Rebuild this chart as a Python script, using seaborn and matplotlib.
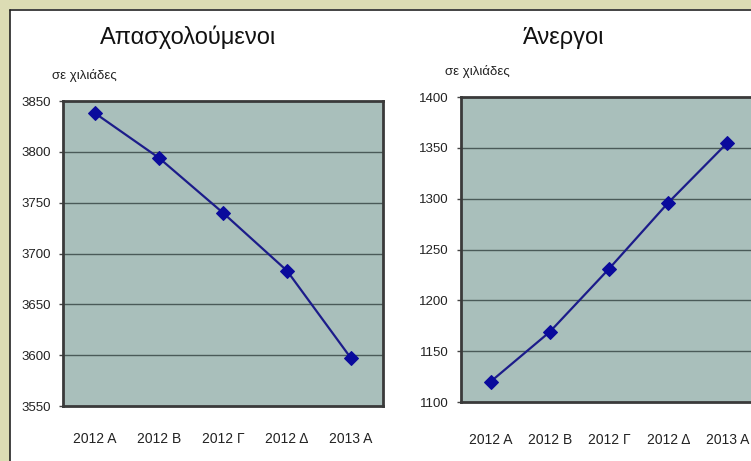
import matplotlib
matplotlib.use("Agg")
import matplotlib.pyplot as plt
from matplotlib.patches import Rectangle
from matplotlib.lines import Line2D
import seaborn as sns
import pandas as pd
import numpy as np

quarters = ["2012 Α", "2012 Β", "2012 Γ", "2012 Δ", "2013 Α"]
employed = [3838, 3794, 3740, 3683, 3597]
unemployed = [1120, 1169, 1231, 1296, 1355]
employed_ticks = [3550, 3600, 3650, 3700, 3750, 3800, 3850]
unemployed_ticks = [1100, 1150, 1200, 1250, 1300, 1350, 1400]
title_left = "Απασχολούμενοι"
title_right = "Άνεργοι"
unit_label = "σε χιλιάδες"

sns.set_theme(style="white")
plt.rcParams['font.family'] = ['Liberation Sans', 'DejaVu Sans']

fig = plt.figure(figsize=(7.51, 4.61), dpi=100)
fig.patch.set_facecolor("white")

# khaki frame strips (top and left)
khaki = "#dcdcb4"
fig.add_artist(Rectangle((0, 1 - 9 / 461), 1, 9 / 461, transform=fig.transFigure,
                         facecolor=khaki, edgecolor="none", zorder=0))
fig.add_artist(Rectangle((0, 0), 10 / 751, 1, transform=fig.transFigure,
                         facecolor=khaki, edgecolor="none", zorder=0))
fig.add_artist(Line2D([10 / 751, 1], [1 - 10 / 461, 1 - 10 / 461], transform=fig.transFigure,
                      color="#222222", lw=1.2))
fig.add_artist(Line2D([10 / 751, 10 / 751], [0, 1 - 10 / 461], transform=fig.transFigure,
                      color="#222222", lw=1.2))

ax1 = fig.add_axes([63 / 751, 1 - 406 / 461, 320 / 751, 305 / 461])
ax2 = fig.add_axes([461 / 751, 1 - 402 / 461, 296 / 751, 305 / 461])

fill = "#a9bfbb"
line_c = "#1c1c8a"
mark_c = "#0a0a9c"

def draw(ax, values, ticks, xpad):
    df = pd.DataFrame({"q": quarters, "v": values})
    ax.set_facecolor(fill)
    sns.lineplot(data=df, x="q", y="v", ax=ax, color=line_c, lw=1.6,
                 marker="D", markersize=7.5, markerfacecolor=mark_c,
                 markeredgecolor=mark_c, sort=False, zorder=3)
    ax.set_xlim(-0.5, len(quarters) - 0.5)
    ax.set_ylim(ticks[0], ticks[-1])
    ax.set_yticks(ticks)
    ax.set_yticklabels([str(t) for t in ticks], fontsize=9.5, color="#222222")
    ax.set_xticks(range(len(quarters)))
    ax.set_xticklabels(quarters, fontsize=10, color="#222222")
    ax.set_xticks(np.arange(-0.5, len(quarters)), minor=True)
    ax.tick_params(axis="x", which="major", length=0, pad=xpad)
    ax.tick_params(axis="x", which="minor", length=4, width=1, color="#555555", direction="out")
    ax.tick_params(axis="y", which="major", length=3, width=1, color="#444444", pad=6, left=True)
    for y in ticks[1:-1]:
        ax.axhline(y, color="#4a5a58", lw=1.0, zorder=1)
    for s in ax.spines.values():
        s.set_color("#3a3a3a")
        s.set_linewidth(2)
    ax.set_xlabel("")
    ax.set_ylabel("")

draw(ax1, employed, employed_ticks, 19)
draw(ax2, unemployed, unemployed_ticks, 22)

fig.text(188 / 751, 1 - 37 / 461, title_left, fontsize=17, ha="center", va="center", color="#111111")
fig.text(564 / 751, 1 - 38 / 461, title_right, fontsize=17, ha="center", va="center", color="#111111")
fig.text(52 / 751, 1 - 75 / 461, unit_label, fontsize=9.5, ha="left", va="center", color="#222222")
fig.text(445 / 751, 1 - 71 / 461, unit_label, fontsize=9.5, ha="left", va="center", color="#222222")

fig.savefig("out.png", dpi=100)
